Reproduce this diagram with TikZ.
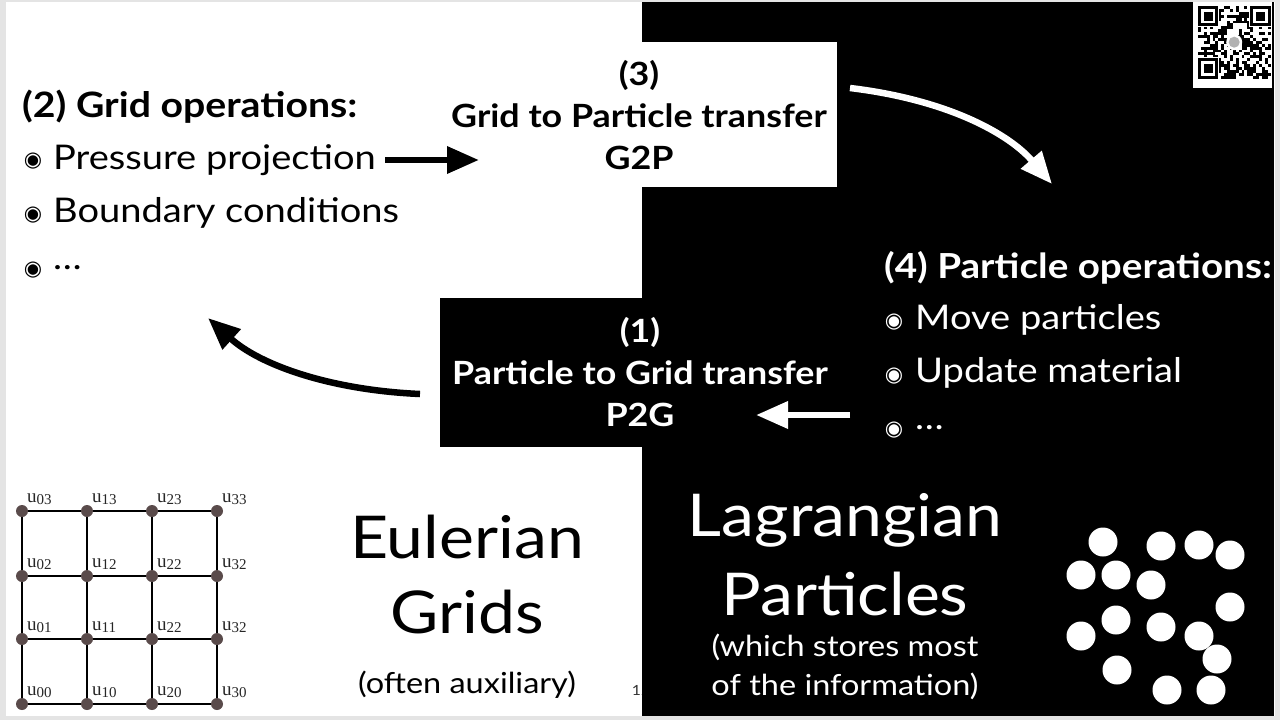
\documentclass[tikz,border=0pt]{standalone}
\usepackage{fontspec}
\setmainfont[FakeStretch=1.12]{Lato}
\newfontfamily\symfont{DejaVu Sans}
\newfontfamily\serifu{Liberation Serif}
\usetikzlibrary{arrows.meta,calc}
\definecolor{frame}{HTML}{E4E4E4}
\definecolor{dotc}{HTML}{5A4B4B}
\newcommand{\ulab}[1]{u\raisebox{-2pt}{\fontsize{15}{15}\selectfont #1}}
\begin{document}
\begin{tikzpicture}[x=1pt,y=-1pt,
  txt/.style={inner sep=0pt,anchor=west,font=\fontsize{34}{40}\selectfont},
  head/.style={inner sep=0pt,anchor=west,font=\fontsize{35}{40}\selectfont\bfseries},
  boxtxt/.style={inner sep=0pt,align=center,font=\fontsize{32}{42}\selectfont\bfseries},
  big/.style={inner sep=0pt,font=\fontsize{59}{72}\selectfont},
  small/.style={inner sep=0pt,font=\fontsize{29}{38.5}\selectfont},
  bul/.style={inner sep=0pt,font=\symfont\fontsize{21}{22}\selectfont},
  gdot/.style={circle,fill=dotc,inner sep=0pt,minimum size=12pt},
  glab/.style={inner sep=0pt,anchor=base west,text=black!85,font=\serifu\fontsize{19}{19}\selectfont},
  part/.style={circle,fill=white,inner sep=0pt,minimum size=29pt},
  fatarrow/.style={line width=6.5pt,-{Triangle[length=32pt,width=26pt]}},
]
\useasboundingbox (0,0) rectangle (1280,720);
% frame
\fill[frame] (0,0) rectangle (1280,720);
\fill[white] (6,2) rectangle (1275,716);
% black half
\fill[black] (642,2) rectangle (1274,716);
% QR code (stylised)
\fill[white] (1193,2) rectangle (1272,88);
\begin{scope}[shift={(1198,6)}]
  \pgfmathsetseed{7}
  \foreach \i in {0,...,24}{
    \foreach \j in {0,...,24}{
      \pgfmathrandominteger{\r}{0}{1}
      \ifnum\r=1 \fill[black] (\i*2.9,\j*2.9) rectangle ++(2.9,2.9);\fi
    }
  }
  \foreach \px/\py in {0/0,52.2/0,0/52.2}{
    \fill[white] (\px-1,\py-1) rectangle ++(22.3,22.3);
    \fill[black] (\px,\py) rectangle ++(20.3,20.3);
    \fill[white] (\px+2.9,\py+2.9) rectangle ++(14.5,14.5);
    \fill[black] (\px+5.8,\py+5.8) rectangle ++(8.7,8.7);
  }
  \fill[white] (36.2,36.2) circle (8);
  \fill[gray!60] (36.2,36.2) circle (5.5);
\end{scope}
% box 3 (white)
\fill[white] (440,42) rectangle (837,187);
\node[boxtxt,text=black] (g2p) at (639,115) {(3)\\Grid to Particle transfer\\G2P};
% box 1 (black)
\fill[black] (440,298) rectangle (837,447);
\node[boxtxt,text=white] (p2g) at (640,372) {(1)\\Particle to Grid transfer\\P2G};
% grid operations
\node[head] (gh) at (22,107) {(2) Grid operations:};
\node[bul] (b1) at (33,161) {◉};
\node[txt] (t1) at (53,160) {Pressure projection};
\node[bul] (b2) at (33,215) {◉};
\node[txt] (t2) at (53,213) {Boundary conditions};
\node[bul] (b3) at (33,270) {◉};
\node[txt] (t3) at (53,268) {\dots};
% particle operations
\node[head,text=white,font=\fontsize{34.5}{40}\selectfont\bfseries] (ph) at (884,268) {(4) Particle operations:};
\node[bul,text=white] (c1) at (894,322) {◉};
\node[txt,text=white] (s1) at (915,320) {Move particles};
\node[bul,text=white] (c2) at (894,376) {◉};
\node[txt,text=white] (s2) at (915,373) {Update material};
\node[bul,text=white] (c3) at (894,430) {◉};
\node[txt,text=white] (s3) at (915,428) {\dots};
% arrows
\coordinate (a1s) at (385,160);
\coordinate (a1e) at (479,160);
\draw[fatarrow,black] (a1s) -- (a1e);
\coordinate (a2s) at (850,88);
\coordinate (a2e) at (1052,184);
\draw[fatarrow,white] (a2s) .. controls (950,100) and (1010,135) .. (a2e);
\coordinate (a3s) at (850,415);
\coordinate (a3e) at (756,415);
\draw[fatarrow,white] (a3s) -- (a3e);
\coordinate (a4s) at (420,394);
\coordinate (a4e) at (208,318);
\draw[fatarrow,black] (a4s) .. controls (330,390) and (260,365) .. (a4e);
% grid
\foreach \c/\x in {0/22,1/87,2/152,3/217}{
  \foreach \r/\y in {0/704,1/639,2/576,3/511}{
    \coordinate (n\c\r) at (\x,\y);
  }
}
\foreach \r in {0,1,2,3}{
  \draw[line width=1.8pt] (n0\r) -- (n1\r) -- (n2\r) -- (n3\r);
  \draw[line width=1.8pt] (n\r0) -- (n\r1) -- (n\r2) -- (n\r3);
}
\foreach \c in {0,1,2,3}{
  \foreach \r in {0,1,2,3}{
    \node[gdot] (d\c\r) at (n\c\r) {};
  }
}
\foreach \c/\r/\l in {0/3/03,1/3/13,2/3/23,3/3/33,0/2/02,1/2/12,2/2/22,3/2/32,0/1/01,1/1/11,2/1/22,3/1/32,0/0/00,1/0/10,2/0/20,3/0/30}{
  \node[glab] at ($(n\c\r)+(5,-9)$) {\ulab{\l}};
}
% labels
\node[big] (eul) at (467,537) {Eulerian};
\node[big] (grd) at (467,612) {Grids};
\node[small] (aux) at (467,685) {(often auxiliary)};
\node[inner sep=0pt,font=\fontsize{14}{14}\selectfont,text=black!80] (pg) at (641,690) {12};
\fill[black] (642,600) rectangle (700,716);
\node[big,text=white] (lag) at (845,520) {Lagrangian};
\node[big,text=white] (par) at (845,594) {Particles};
\node[small,text=white,align=center] (inf) at (845,667) {(which stores most\\of the information)};
% particles
\foreach \px/\py [count=\k] in {1103/542,1161/546,1199/545,1230/555,1081/575,1116/575,1151/585,1230/607,1116/620,1161/627,1199/636,1081/636,1217/659,1117/670,1167/690,1211/690}{
  \node[part] (p\k) at (\px,\py) {};
}
\end{tikzpicture}
\end{document}
